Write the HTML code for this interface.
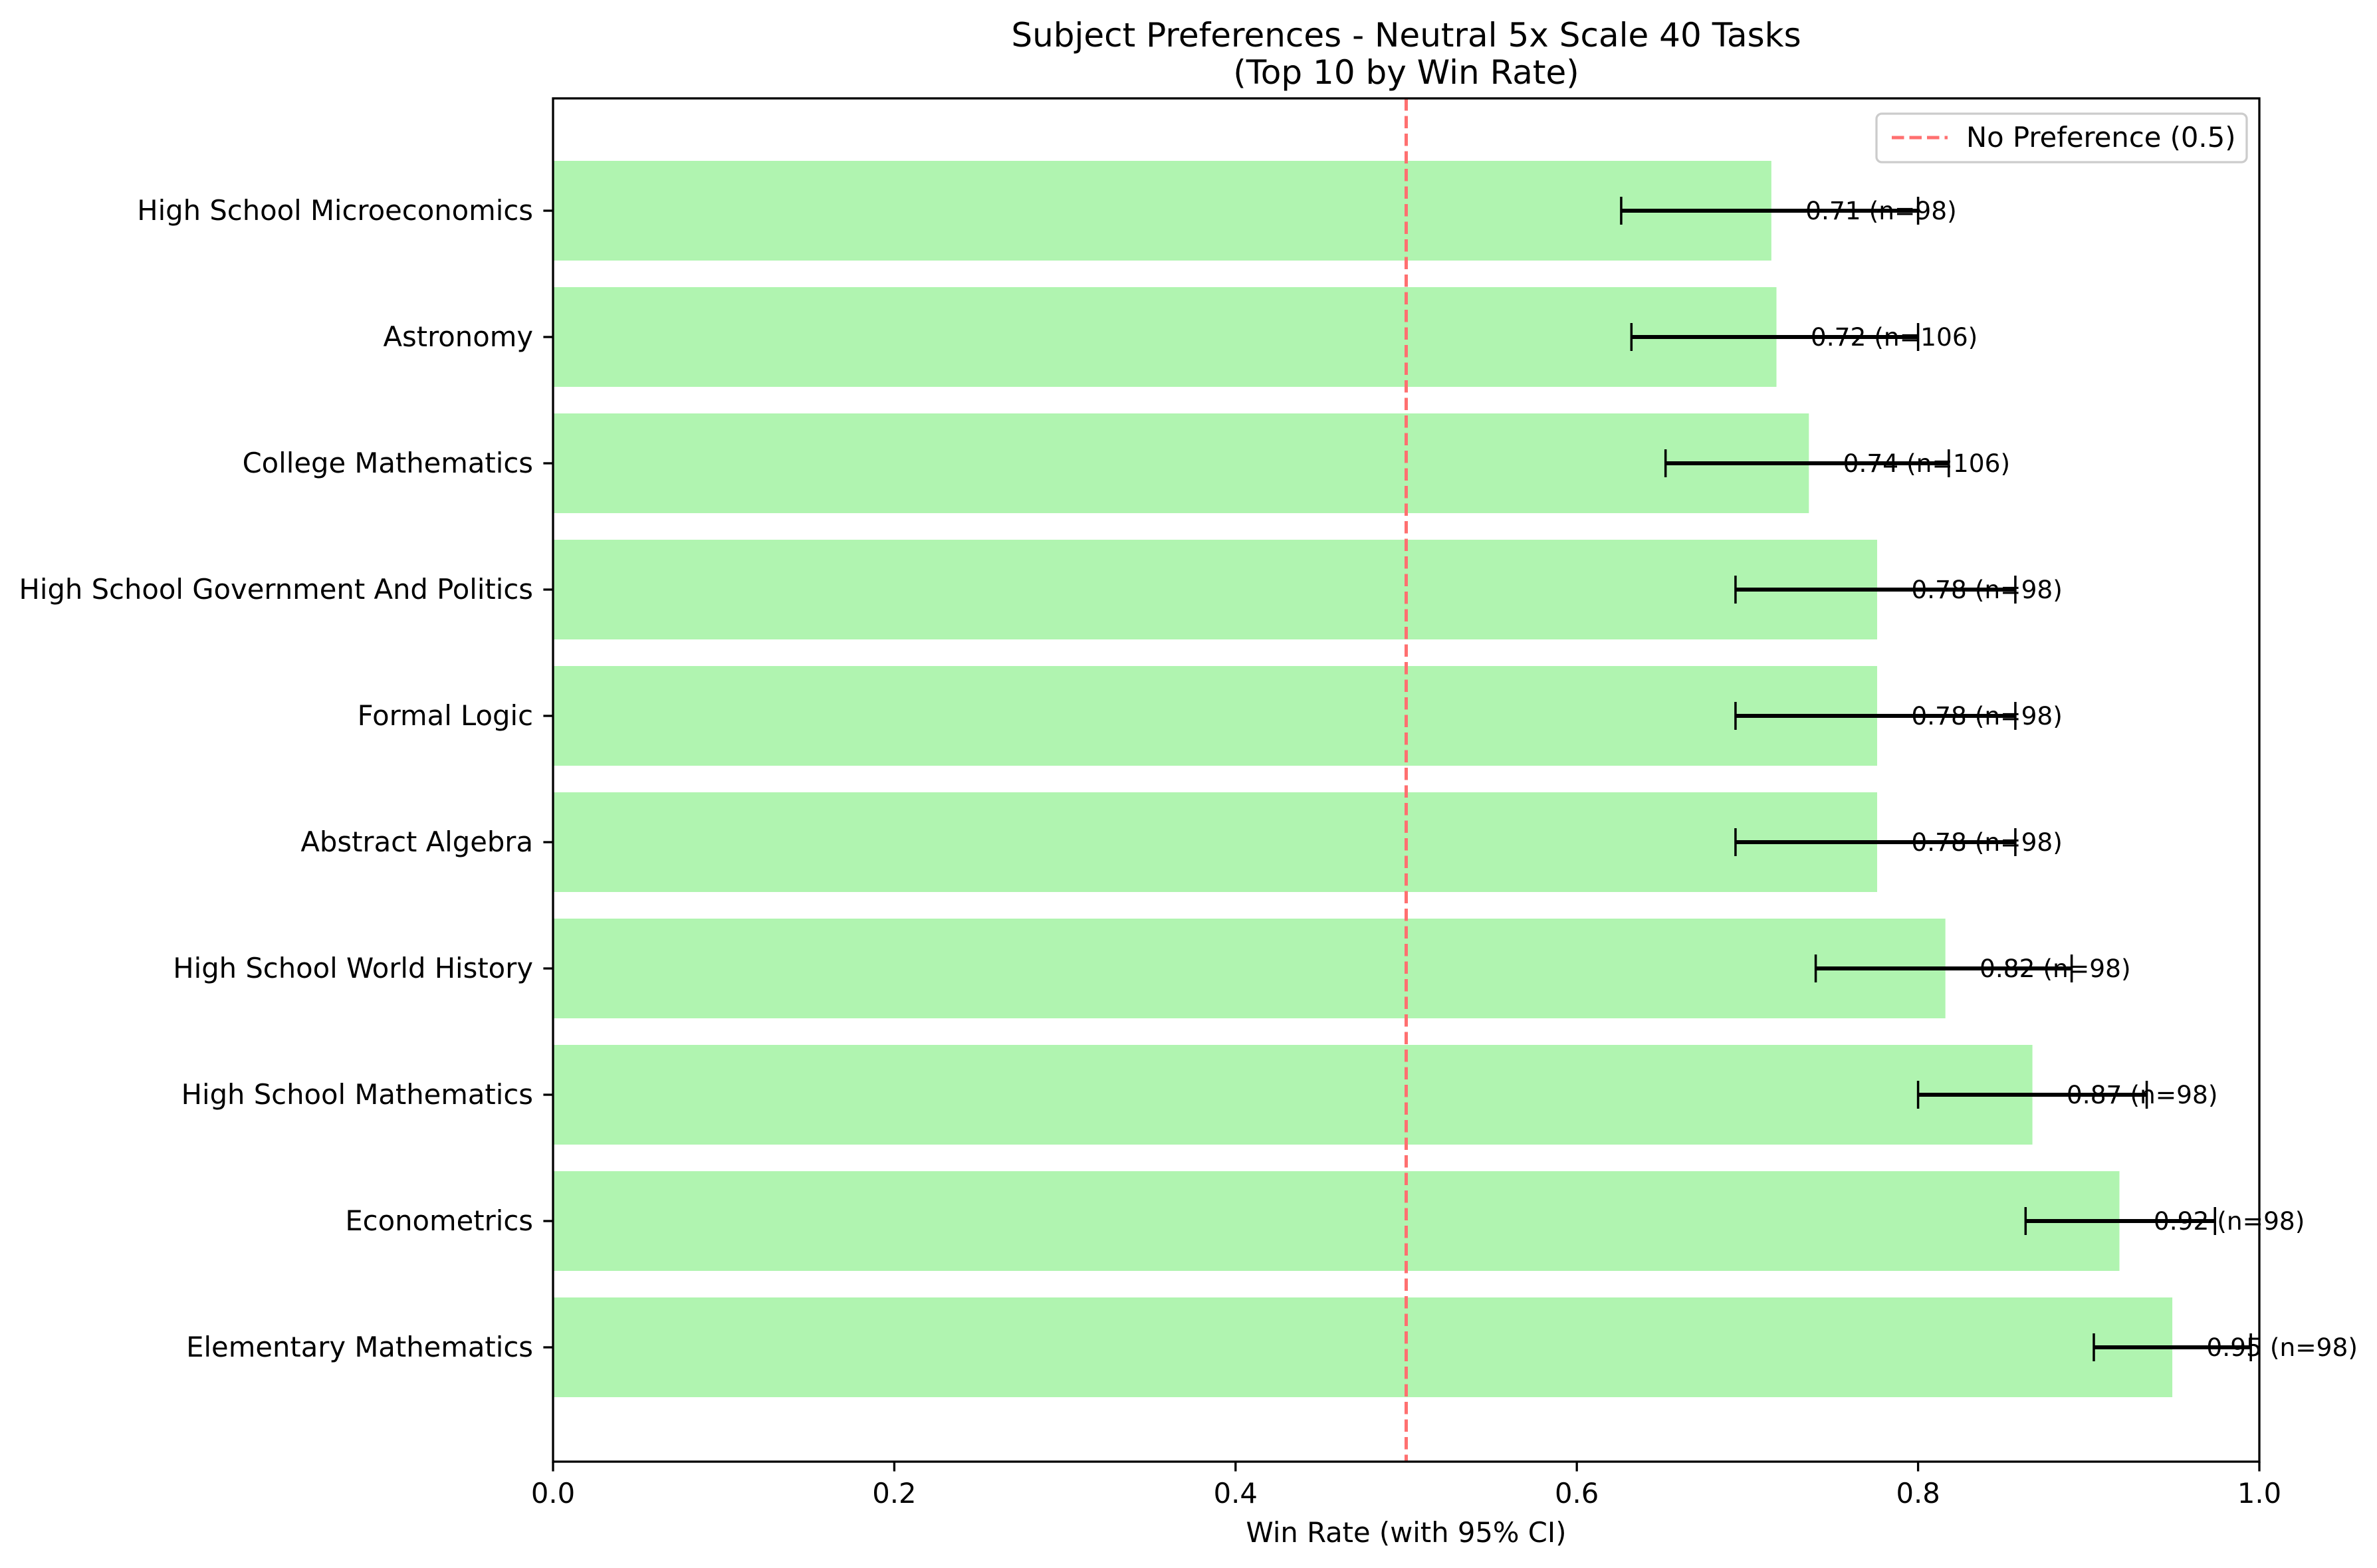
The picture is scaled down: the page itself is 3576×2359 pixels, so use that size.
<!DOCTYPE html>
<html><head><meta charset="utf-8"><style>
html,body{margin:0;padding:0;background:#fff;}
svg{display:block;font-family:"DejaVu Sans","Liberation Sans",sans-serif;}
</style></head><body>
<svg id="chart" width="3576" height="2359" viewBox="0 0 3576 2359" xmlns="http://www.w3.org/2000/svg">
<rect width="3576" height="2359" fill="#fff"/>
<text x="2115.5" y="70" font-size="50" text-anchor="middle">Subject Preferences - Neutral 5x Scale 40 Tasks</text>
<text x="2115.5" y="126" font-size="50" text-anchor="middle">(Top 10 by Win Rate)</text>
<g id="plot"></g>
<text x="2115.5" y="2320" font-size="41.7" text-anchor="middle">Win Rate (with 95% CI)</text>
</svg>
<script>
const categories = ["High School Microeconomics","Astronomy","College Mathematics","High School Government And Politics","Formal Logic","Abstract Algebra","High School World History","High School Mathematics","Econometrics","Elementary Mathematics"];
const winRates = [0.714,0.717,0.736,0.776,0.776,0.776,0.816,0.867,0.918,0.949];
const ciLow = [0.626,0.632,0.652,0.693,0.693,0.693,0.740,0.800,0.863,0.903];
const ciHigh = [0.800,0.800,0.818,0.857,0.857,0.857,0.890,0.934,0.974,0.995];
const counts = [98,106,106,98,98,98,98,98,98,98];
const xTicks = [0,0.2,0.4,0.6,0.8,1.0];
const xTickLabels = ["0.0","0.2","0.4","0.6","0.8","1.0"];
const refValue = 0.5;

const NS="http://www.w3.org/2000/svg";
const L=832,R=3399,T=148,B=2199;
const x=v=>L+(R-L)*v;
const rowY=i=>317+i*126.4*(2359/1034)/2.2806*1; // row spacing
function yc(i){return 317+i*((2027-317)/9);}
const bh=150;
const g=document.getElementById('plot');
function mk(tag,attrs,parent){const e=document.createElementNS(NS,tag);for(const k in attrs)e.setAttribute(k,attrs[k]);(parent||g).appendChild(e);return e;}
categories.forEach((c,i)=>{
  const r=mk('rect',{x:x(0),y:yc(i)-bh/2,width:x(winRates[i])-x(0),height:bh,fill:'#b0f4b0'});
  
  
});
const ref=mk('line',{x1:x(refValue),x2:x(refValue),y1:T,y2:B,stroke:'#ff7070','stroke-width':5,'stroke-dasharray':'18.5,8'});


categories.forEach((c,i)=>{
  const y=yc(i);
  const eg=mk('g',{});
  
  
  mk('line',{x1:x(ciLow[i]),x2:x(ciHigh[i]),y1:y,y2:y,stroke:'#000','stroke-width':6},eg);
  mk('line',{x1:x(ciLow[i]),x2:x(ciLow[i]),y1:y-21,y2:y+21,stroke:'#000','stroke-width':3.5},eg);
  mk('line',{x1:x(ciHigh[i]),x2:x(ciHigh[i]),y1:y-21,y2:y+21,stroke:'#000','stroke-width':3.5},eg);
  const t=mk('text',{x:x(winRates[i]+0.02),y:y+13,'font-size':37.5});
  t.textContent=winRates[i].toFixed(2)+' (n='+counts[i]+')';
  
  
  mk('line',{x1:L-14.6,x2:L,y1:y,y2:y,stroke:'#000','stroke-width':3.3});
  const yl=mk('text',{x:802,y:y+14,'font-size':41.7,'text-anchor':'end'});
  yl.textContent=c;
  
  
});
xTicks.forEach((v,i)=>{
  mk('line',{x1:x(v),x2:x(v),y1:B,y2:B+14.6,stroke:'#000','stroke-width':3.3});
  const t=mk('text',{x:x(v),y:2261,'font-size':41.7,'text-anchor':'middle'});
  t.textContent=xTickLabels[i];
  
  
});
const frame=mk('rect',{x:L,y:T,width:R-L,height:B-T,fill:'none',stroke:'#000','stroke-width':3.3});


const lg=mk('g',{});


mk('rect',{x:2823,y:171,width:557,height:73,rx:8,fill:'#fff','fill-opacity':0.8,stroke:'#ccc','stroke-width':3.3},lg);
mk('line',{x1:2846,x2:2930,y1:207,y2:207,stroke:'#ff7070','stroke-width':5,'stroke-dasharray':'18.5,8'},lg);
const lt=mk('text',{x:2958,y:221,'font-size':41.7},lg);
lt.textContent='No Preference (0.5)';


</script>
</body></html>
